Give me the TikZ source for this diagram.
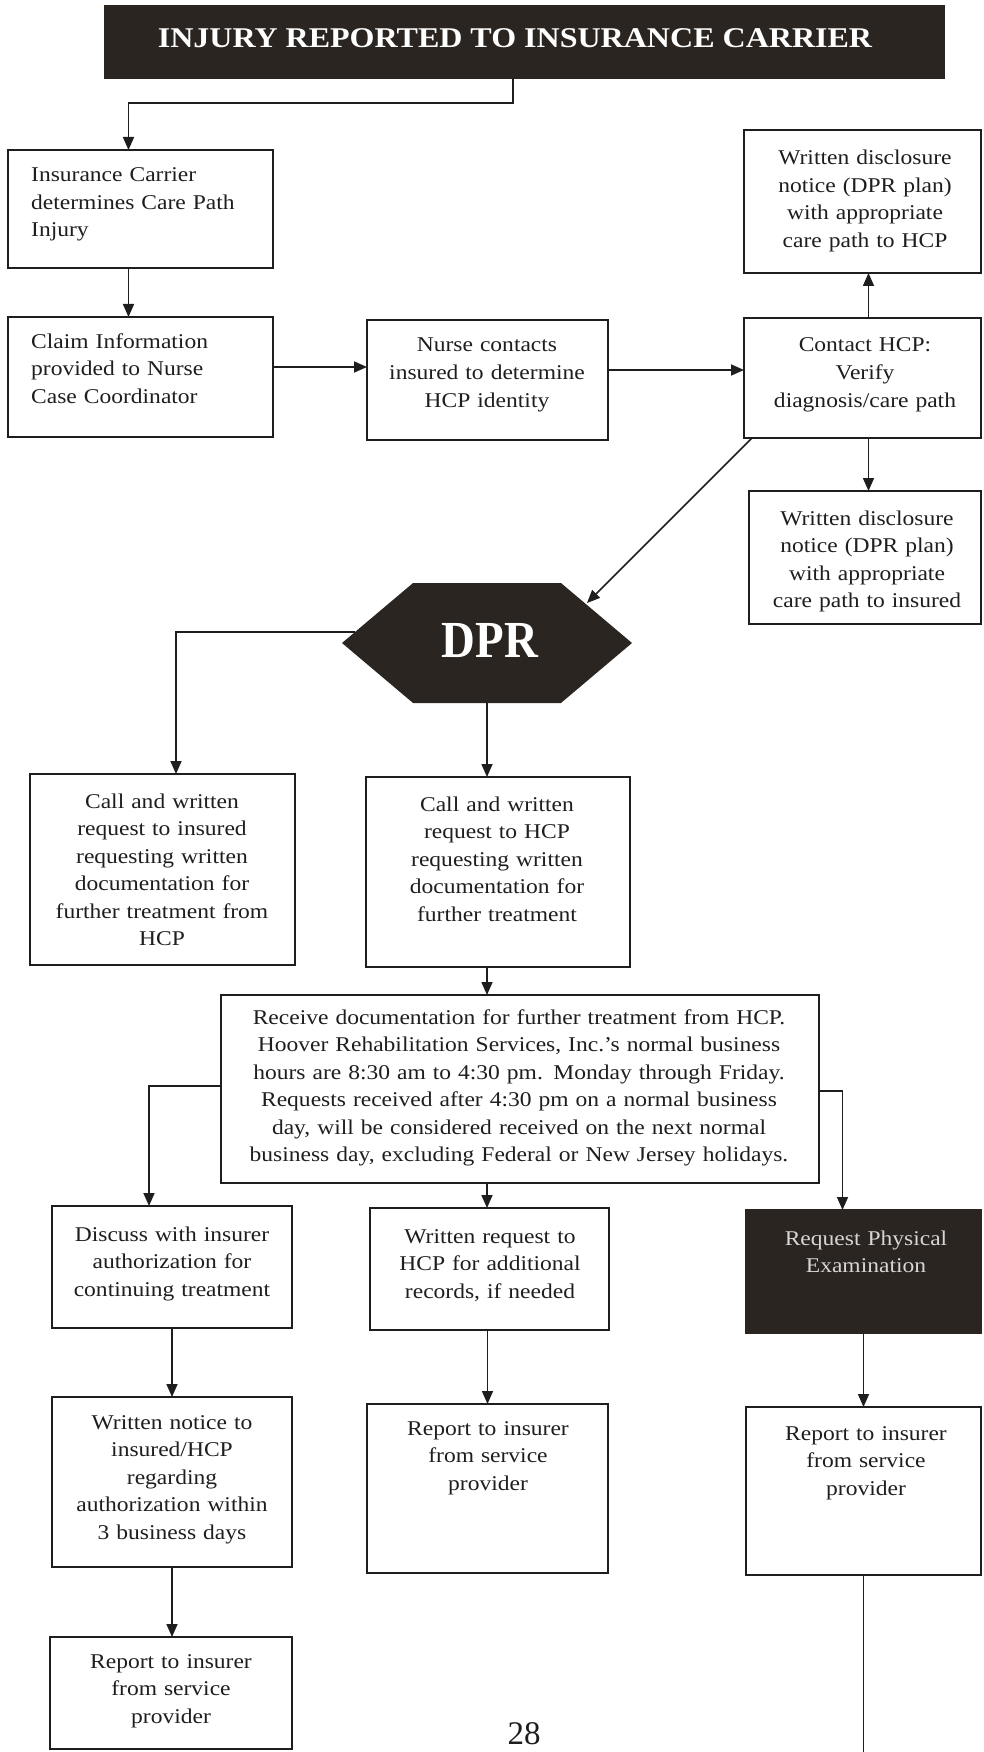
\documentclass[tikz,border=0pt]{standalone}
\usepackage{fontspec}
\setmainfont[FakeStretch=1.12]{Liberation Serif}
\newfontfamily\plainserif{Liberation Serif}
\newfontfamily\dprfont[FakeStretch=0.9]{Liberation Serif}
\usetikzlibrary{arrows.meta,calc}

\definecolor{ink}{HTML}{1E1E1E}
\definecolor{panel}{HTML}{2A2521}
\definecolor{paletext}{HTML}{D6D6D6}

\newcommand\bodytext{\fontsize{21}{27.5}\selectfont}
\newcommand\titletext{\fontsize{28.6}{30}\selectfont\bfseries}

% box from (x1,y1) to (x2,y2), measured downward from the top left corner
\newcommand\panelbox[6]{%
  \node[#1, minimum width={#4pt-#2pt}, minimum height={#5pt-#3pt}]
    (#6) at ({(#2+#4)/2},{(#3+#5)/2}) {};}

\tikzset{
  frame/.style={draw=ink, line width=1.9pt, fill=white, inner sep=0pt, outer sep=0pt},
  darkframe/.style={frame, draw=panel, fill=panel},
  words/.style={inner sep=0pt, text=ink, font=\bodytext, align=center,
    text width=300pt, anchor=base},
  leftwords/.style={words, align=left, text width=240pt, anchor=base west},
  flow/.style={draw=ink, line width=1.6pt, -{Triangle[length=13pt,width=11pt]}},
  lead/.style={draw=ink, line width=1.6pt},
}

\begin{document}
\begin{tikzpicture}[x=1pt,y=-1pt]
\useasboundingbox (0,0) rectangle (984,1752);

% ---------- boxes ----------
\panelbox{darkframe}{105}{6}{944}{78}{title}
\panelbox{frame}{8}{150}{273}{268}{A}
\panelbox{frame}{8}{317}{273}{437}{B}
\panelbox{frame}{367}{320}{608}{440}{C}
\panelbox{frame}{744}{318}{981}{438}{D}
\panelbox{frame}{744}{130}{981}{273}{W1}
\panelbox{frame}{749}{491}{981}{624}{W2}
\panelbox{frame}{30}{774}{295}{965}{E}
\panelbox{frame}{366}{777}{630}{967}{F}
\panelbox{frame}{221}{995}{819}{1183}{G}
\panelbox{frame}{52}{1206}{292}{1328}{H}
\panelbox{frame}{370}{1208}{609}{1330}{I}
\panelbox{darkframe}{746}{1210}{981}{1333}{P}
\panelbox{frame}{52}{1397}{292}{1567}{J}
\panelbox{frame}{367}{1404}{608}{1573}{K}
\panelbox{frame}{746}{1407}{981}{1575}{R}
\panelbox{frame}{50}{1637}{292}{1749}{M}

% DPR hexagon: geometry node, then its outline filled from the anchors
\node[minimum width=290pt, minimum height=120pt, inner sep=0pt, outer sep=0pt] (dpr) at (487,643) {};
\fill[panel] (dpr.west)
  -- ($(dpr.north west)!0.245!(dpr.north east)$)
  -- ($(dpr.north west)!0.755!(dpr.north east)$)
  -- (dpr.east)
  -- ($(dpr.south west)!0.755!(dpr.south east)$)
  -- ($(dpr.south west)!0.245!(dpr.south east)$)
  -- cycle;
\node[inner sep=0pt, text=white, font={\dprfont\bfseries\fontsize{52}{52}\selectfont}, anchor=base]
  (dprT) at (490,657) {DPR};

% ---------- texts ----------
\node[inner sep=0pt, text=white, font=\titletext, anchor=base] (titleT) at (515,48)
  {INJURY REPORTED TO INSURANCE CARRIER};
\node[leftwords] (AT) at (31,182) {Insurance Carrier\\determines Care Path\\Injury};
\node[leftwords] (BT) at (31,348) {Claim Information\\provided to Nurse\\Case Coordinator};
\node[words] (CT) at (487,352) {Nurse contacts\\insured to determine\\HCP identity};
\node[words] (DT) at (865,352) {Contact HCP:\\Verify\\diagnosis/care path};
\node[words] (W1T) at (865,165) {Written disclosure\\notice (DPR plan)\\with appropriate\\care path to HCP};
\node[words] (W2T) at (867,525) {Written disclosure\\notice (DPR plan)\\with appropriate\\care path to insured};
\node[words] (ET) at (162,808) {Call and written\\request to insured\\requesting written\\documentation for\\further treatment from\\HCP};
\node[words] (FT) at (497,811) {Call and written\\request to HCP\\requesting written\\documentation for\\further treatment};
\node[words, text width=600pt] (GT) at (519,1024)
  {Receive documentation for further treatment from HCP.\\
   Hoover Rehabilitation Services, Inc.’s normal business\\
   hours are 8:30 am to 4:30 pm. Monday through Friday.\\
   Requests received after 4:30 pm on a normal business\\
   day, will be considered received on the next normal\\
   business day, excluding Federal or New Jersey holidays.};
\node[words] (HT) at (172,1241) {Discuss with insurer\\authorization for\\continuing treatment};
\node[words] (IT) at (490,1243) {Written request to\\HCP for additional\\records, if needed};
\node[words, text=paletext] (PT) at (866,1245) {Request Physical\\Examination};
\node[words] (JT) at (172,1429) {Written notice to\\insured/HCP\\regarding\\authorization within\\3 business days};
\node[words] (KT) at (488,1435) {Report to insurer\\from service\\provider};
\node[words] (RT) at (866,1440) {Report to insurer\\from service\\provider};
\node[words] (MT) at (171,1668) {Report to insurer\\from service\\provider};
\node[inner sep=0pt, text=ink, font={\plainserif\fontsize{33}{33}\selectfont}, anchor=base]
  (pagenum) at (524,1744) {28};

% ---------- connectors ----------
\draw[flow] ([xshift=-11.5pt]title.south) -- ++(0,25) -| ([xshift=-12pt]A.north);
\draw[flow] ([xshift=-12pt]A.south) -- ([xshift=-12pt]B.north);
\coordinate (bc) at ([yshift=10pt]B.east);
\draw[flow] (bc) -- (bc -| C.west);
\coordinate (cd) at ([yshift=10pt]C.east);
\draw[flow] (cd) -- (cd -| D.west);
\coordinate (du) at ([xshift=6pt]D.north);
\draw[flow] (du) -- (du |- W1.south);
\coordinate (dn) at ([xshift=6pt]D.south);
\draw[flow] (dn) -- (dn |- W2.north);
\coordinate (dd) at ([xshift=8pt]D.south west);
\draw[flow] (dd) -- ($(dpr.center)+(100,-40)$);
\coordinate (dl) at ($(dpr.center)+(-132,-11)$);
\draw[flow] (dl) -| ([xshift=13.5pt]E.north);
\draw[flow] (dpr.south) -- (dpr.south |- F.north);
\coordinate (fg) at (dpr.south |- F.south);
\draw[flow] (fg) -- (fg |- G.north);
\coordinate (gl) at ([yshift=3pt]G.west);
\draw[flow] (gl) -| ([xshift=-23pt]H.north);
\draw[flow] (fg |- G.south) -- (fg |- I.north);
\coordinate (gr) at ([yshift=-2pt]G.east);
\draw[flow] (gr) -| ([xshift=-21pt]P.north);
\draw[flow] (H.south) -- (H.south |- J.north);
\draw[flow] (J.south) -- (J.south |- M.north);
\draw[flow] (K.north |- I.south) -- (K.north);
\draw[flow] (P.south) -- (P.south |- R.north);
\coordinate (tail) at ($(R.south)+(0,185)$);
\draw[lead] (R.south) -- (tail);
\end{tikzpicture}
\end{document}
